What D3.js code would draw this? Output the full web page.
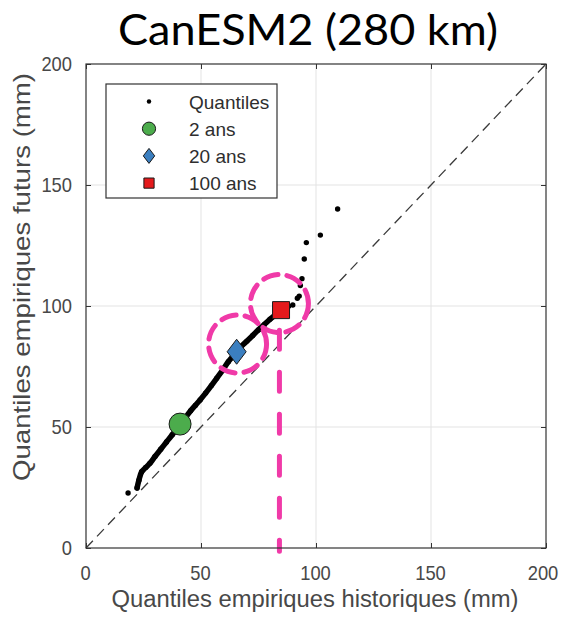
<!DOCTYPE html>
<html>
<head>
<meta charset="utf-8">
<script src="https://cdn.jsdelivr.net/npm/d3@7"></script>
<style>
  html, body { margin: 0; padding: 0; background: #fff; }
  svg { display: block; }
</style>
</head>
<body>
<svg id="chart" width="564" height="619"></svg>
<script>
// ---- data ----
const chartTitle = "CanESM2 (280 km)";
const xLabel = "Quantiles empiriques historiques (mm)";
const yLabel = "Quantiles empiriques futurs (mm)";
const xTicks = [0, 50, 100, 150, 200];
const yTicks = [0, 50, 100, 150, 200];

const quantHist = [18.3, 22.2, 23, 24.2, 26, 27.8, 30, 32.5, 35, 37.5, 40.9, 43, 45.5, 47.5, 49.6, 52, 54.5, 56.8, 59.5, 61.9, 63.8, 65.5, 67.5, 70, 72.5, 74.9, 77.5, 80, 82.5, 84.8, 86.5, 88, 89.9, 91.9, 92.7, 93.2, 93.9, 94.9, 95.8, 101.9, 109.4];
const quantFut  = [22.7, 24.8, 28, 31.5, 33.3, 35, 37.8, 40.8, 43.8, 46.8, 51.1, 53.6, 56.7, 58.9, 61.2, 64, 67.1, 70.1, 73.6, 77, 79.2, 81.1, 83.3, 85.5, 87.8, 90.1, 92.3, 94.5, 96.5, 98.3, 99.2, 99.9, 100.4, 103.2, 104.1, 108.5, 111.3, 119.4, 126.2, 129.3, 140.1];

// return periods
const periodNames = ["2 ans", "20 ans", "100 ans"];
const periodHist = [40.9, 65.5, 84.8];
const periodFut  = [51.2, 81.1, 98.3];
const periodColors = ["#4cac4c", "#3b7fc0", "#e41a1c"];
const periodShapes = ["circle", "diamond", "square"];

// pink annotations (data units)
const highlightX = [65.9, 84.1];
const highlightY = [84.3, 101.0];
const markerLineX = 84.1;
const markerLineY = [90, -1.3];

// ---- layout ----
const svg = d3.select("#chart");
const L = 86, R = 546, T = 64, B = 548;
const x = d3.scaleLinear().domain([0, 200]).range([L, R]);
const y = d3.scaleLinear().domain([0, 200]).range([B, T]);
const axisColor = "#333";
const textColor = "#484848";
const pink = "#f03aa8";

// title
svg.append("text")
  .attr("x", 308).attr("y", 45)
  .attr("text-anchor", "middle")
  .attr("font-family", "Lato, 'Open Sans', sans-serif")
  .attr("font-size", 42)
  .attr("textLength", 380).attr("lengthAdjust", "spacingAndGlyphs")
  .attr("fill", "#000")
  .text(chartTitle);

// plot background
svg.append("rect").attr("x", L).attr("y", T).attr("width", R - L).attr("height", B - T).attr("fill", "#fff");

// grid
const grid = svg.append("g");
grid.selectAll("line.gx").data(xTicks.slice(1, -1)).join("line")
  .attr("x1", d => x(d)).attr("x2", d => x(d)).attr("y1", T).attr("y2", B)
  .attr("stroke", "#e3e3e3").attr("stroke-width", 1);
grid.selectAll("line.gy").data(yTicks.slice(1, -1)).join("line")
  .attr("y1", d => y(d)).attr("y2", d => y(d)).attr("x1", L).attr("x2", R)
  .attr("stroke", "#e3e3e3").attr("stroke-width", 1);

// diagonal 1:1
svg.append("line")
  .attr("x1", x(0)).attr("y1", y(0)).attr("x2", x(200)).attr("y2", y(200))
  .attr("stroke", "#3a3a3a").attr("stroke-width", 1.3)
  .attr("stroke-dasharray", "10 6");

// quantiles: dense part as thick line + dots
const pts = quantHist.map((h, i) => ({ h, f: quantFut[i] }));
const dense = pts.slice(1, 32);
svg.append("path")
  .datum(dense)
  .attr("d", d3.line().x(d => x(d.h)).y(d => y(d.f)).curve(d3.curveCatmullRom))
  .attr("fill", "none").attr("stroke", "#000").attr("stroke-width", 5.5)
  .attr("stroke-linecap", "round").attr("stroke-linejoin", "round");
svg.append("g").selectAll("circle").data(pts).join("circle")
  .attr("cx", d => x(d.h)).attr("cy", d => y(d.f)).attr("r", 2.7)
  .attr("fill", "#000");

// markers
function markerPath(shape, cx, cy, s) {
  if (shape === "diamond") {
    const w = 9.5 * s, h = 12.5 * s;
    return `M${cx},${cy - h}L${cx + w},${cy}L${cx},${cy + h}L${cx - w},${cy}Z`;
  }
  if (shape === "square") {
    const a = 8.5 * s;
    return `M${cx - a},${cy - a}H${cx + a}V${cy + a}H${cx - a}Z`;
  }
  const r = 11 * s;
  return `M${cx - r},${cy}A${r},${r} 0 1,0 ${cx + r},${cy}A${r},${r} 0 1,0 ${cx - r},${cy}Z`;
}
svg.append("g").selectAll("path").data(periodNames).join("path")
  .attr("d", (d, i) => markerPath(periodShapes[i], x(periodHist[i]), y(periodFut[i]), 1))
  .attr("fill", (d, i) => periodColors[i])
  .attr("stroke", "#1a1a1a").attr("stroke-width", 1);

// pink annotations
svg.append("g").selectAll("circle").data(highlightX).join("circle")
  .attr("cx", d => x(d)).attr("cy", (d, i) => y(highlightY[i])).attr("r", 29)
  .attr("fill", "none").attr("stroke", pink).attr("stroke-width", 5)
  .attr("stroke-dasharray", "15 9").attr("stroke-linecap", "round");
svg.append("line")
  .attr("x1", x(markerLineX)).attr("x2", x(markerLineX))
  .attr("y1", y(markerLineY[0])).attr("y2", y(markerLineY[1]))
  .attr("stroke", pink).attr("stroke-width", 5)
  .attr("stroke-dasharray", "19 23").attr("stroke-linecap", "round");

// axes
function styleAxis(g) {
  g.select(".domain").remove();
  g.selectAll(".tick line").attr("stroke", axisColor).attr("stroke-width", 1);
  g.selectAll(".tick text")
    .attr("fill", textColor)
    .attr("font-family", "Arial, 'Liberation Sans', sans-serif")
    .attr("font-size", 21)
    .attr("textLength", d => String(d).length * 10.2)
    .attr("lengthAdjust", "spacingAndGlyphs");
}
const xAxisG = svg.append("g").attr("transform", `translate(0,${B})`)
  .call(d3.axisBottom(x).tickValues(xTicks).tickSize(-5).tickPadding(17))
  .call(styleAxis);
xAxisG.selectAll(".tick text").attr("dx", d => d === 200 ? -3.5 : -1);
svg.append("g").attr("transform", `translate(${L},0)`)
  .call(d3.axisLeft(y).tickValues(yTicks).tickSize(-5).tickPadding(14))
  .call(styleAxis);
svg.append("g").attr("transform", `translate(0,${T})`)
  .call(d3.axisTop(x).tickValues(xTicks).tickSize(-5).tickFormat(() => ""))
  .call(styleAxis);
svg.append("g").attr("transform", `translate(${R},0)`)
  .call(d3.axisRight(y).tickValues(yTicks).tickSize(-5).tickFormat(() => ""))
  .call(styleAxis);

// frame
svg.append("rect").attr("x", L).attr("y", T).attr("width", R - L).attr("height", B - T)
  .attr("fill", "none").attr("stroke", axisColor).attr("stroke-width", 1.2);

// axis labels
svg.append("text")
  .attr("x", (L + R) / 2 - 1).attr("y", 607)
  .attr("text-anchor", "middle")
  .attr("font-family", "Arial, 'Liberation Sans', sans-serif")
  .attr("font-size", 23)
  .attr("textLength", 407).attr("lengthAdjust", "spacingAndGlyphs")
  .attr("fill", textColor)
  .text(xLabel);
svg.append("text")
  .attr("transform", `translate(30,277) rotate(-90)`)
  .attr("text-anchor", "middle")
  .attr("font-family", "Arial, 'Liberation Sans', sans-serif")
  .attr("font-size", 24)
  .attr("textLength", 408).attr("lengthAdjust", "spacingAndGlyphs")
  .attr("fill", textColor)
  .text(yLabel);

// legend
const leg = svg.append("g");
leg.append("rect").attr("x", 106).attr("y", 84).attr("width", 171).attr("height", 114)
  .attr("fill", "#fff").attr("stroke", axisColor).attr("stroke-width", 1.2);
const legNames = ["Quantiles"].concat(periodNames);
const rowY = i => 101.5 + i * 27.2;
leg.append("circle").attr("cx", 149).attr("cy", rowY(0)).attr("r", 2.2).attr("fill", "#000");
leg.selectAll("path").data(periodNames).join("path")
  .attr("d", (d, i) => markerPath(periodShapes[i], 149, rowY(i + 1), 0.6))
  .attr("fill", (d, i) => periodColors[i])
  .attr("stroke", "#1a1a1a").attr("stroke-width", 1);
leg.selectAll("text").data(legNames).join("text")
  .attr("x", 189).attr("y", (d, i) => rowY(i) + 7)
  .attr("font-family", "Arial, 'Liberation Sans', sans-serif")
  .attr("font-size", 19)
  .attr("fill", "#2e2e2e")
  .text(d => d);
</script>
</body>
</html>
